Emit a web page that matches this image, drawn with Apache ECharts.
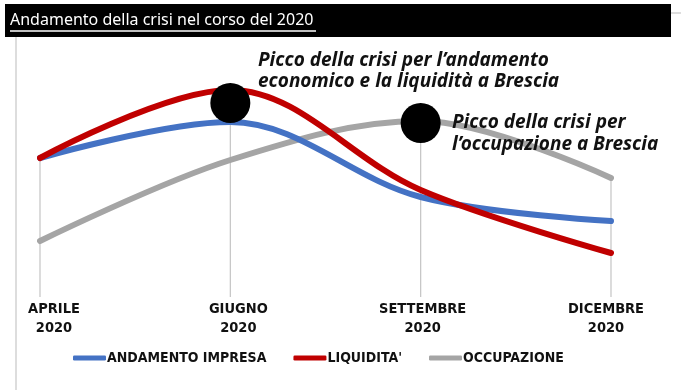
<!DOCTYPE html>
<html>
<head>
<meta charset="utf-8">
<script src="https://cdn.jsdelivr.net/npm/echarts@6/dist/echarts.min.js"></script>
<style>
html,body{margin:0;padding:0;background:#fff;}
#chart{width:681px;height:390px;}
</style>
</head>
<body>
<div id="chart"></div>
<script>
// ---- data ----
var titleText = 'Andamento della crisi nel corso del 2020';
var categories = ['APRILE\n2020', 'GIUGNO\n2020', 'SETTEMBRE\n2020', 'DICEMBRE\n2020'];
var seriesNames = ['ANDAMENTO IMPRESA', "LIQUIDITA'", 'OCCUPAZIONE'];
var andamentoImpresa = [139, 175, 100, 76];
var liquidita = [139, 207, 107, 44];
var occupazione = [56, 137, 176, 119];
var peakPoints = [[1, 194], [2, 174]];
var note1 = ["Picco della crisi per l\u2019andamento", 'economico e la liquidit\u00e0 a Brescia'];
var note2 = ['Picco della crisi per', 'l\u2019occupazione a Brescia'];

var dropData = categories.map(function (c, i) {
  return [i, Math.max(andamentoImpresa[i], liquidita[i], occupazione[i])];
});

var labelFont = '"Liberation Sans Narrow", "DejaVu Sans Condensed", sans-serif';
var noteFont = '"Noto Sans", "DejaVu Sans", sans-serif';
var labelShift = [14, 8, 2, -5];

var chart = echarts.init(document.getElementById('chart'), null, {renderer: 'canvas'});
chart.setOption({
  animation: false,
  backgroundColor: '#ffffff',
  title: {
    text: titleText,
    left: 5, top: 7, z: 10,
    textStyle: {color: '#ffffff', fontSize: 16, fontWeight: 'normal', fontFamily: noteFont}
  },
  grid: {left: 40, right: 70, top: 38, bottom: 93, outerBoundsMode: 'none', containLabel: false},
  legend: {
    left: 73, top: 351, padding: 0,
    itemWidth: 33, itemHeight: 5, itemGap: 27,
    icon: 'roundRect',
    data: seriesNames,
    textStyle: {fontFamily: labelFont, fontWeight: 'bold', fontSize: 14, color: '#111', padding: [0, 0, 0, -4]}
  },
  xAxis: {
    type: 'category',
    boundaryGap: false,
    data: categories.map(function (c, i) {
      var s = labelShift[i];
      return {value: c, textStyle: {padding: s >= 0 ? [0, 0, 0, 2 * s] : [0, -2 * s, 0, 0]}};
    }),
    axisLine: {show: false},
    axisTick: {show: false},
    splitLine: {show: false},
    axisLabel: {
      margin: 3, color: '#111', fontFamily: labelFont, fontWeight: 'bold', fontSize: 14.5, lineHeight: 19
    }
  },
  yAxis: {type: 'value', min: 0, max: 259, show: false},
  graphic: [
    {type: 'rect', z: 0, shape: {x: 5, y: 4, width: 666, height: 33}, style: {fill: '#000'}},
    {type: 'line', z: 100, shape: {x1: 10, y1: 31, x2: 316, y2: 31}, style: {stroke: '#fff', lineWidth: 1.3}},
    {type: 'line', z: 0, shape: {x1: 671, y1: 13, x2: 681, y2: 13}, style: {stroke: '#bbb', lineWidth: 1}},
    {type: 'line', z: 0, shape: {x1: 16, y1: 37, x2: 16, y2: 390}, style: {stroke: '#bbb', lineWidth: 1}},
    {type: 'text', z: 100, x: 258, y: 50, style: {text: note1.join('\n'), fill: '#111', font: 'italic bold 19px ' + noteFont, lineHeight: 21}},
    {type: 'text', z: 100, x: 452, y: 112, style: {text: note2.join('\n'), fill: '#111', font: 'italic bold 19px ' + noteFont, lineHeight: 22}}
  ],
  series: [
    {
      type: 'custom', z: 1, silent: true,
      data: dropData,
      renderItem: function (params, api) {
        var top = api.coord([api.value(0), api.value(1)]);
        var bot = api.coord([api.value(0), 0]);
        return {type: 'line', shape: {x1: top[0], y1: top[1], x2: bot[0], y2: bot[1]},
          style: {stroke: '#c4c4c4', lineWidth: 1.2}};
      }
    },
    {name: seriesNames[0], type: 'line', z: 3, smooth: 0.35, symbol: 'none', data: andamentoImpresa,
      color: '#4472c4', lineStyle: {width: 6, color: '#4472c4', cap: 'round'}},
    {name: seriesNames[1], type: 'line', z: 4, smooth: 0.35, symbol: 'none', data: liquidita,
      color: '#c00000', lineStyle: {width: 6, color: '#c00000', cap: 'round'}},
    {name: seriesNames[2], type: 'line', z: 2, smooth: 0.35, symbol: 'none', data: occupazione,
      color: '#a5a5a5', lineStyle: {width: 6, color: '#a5a5a5', cap: 'round'}},
    {type: 'scatter', z: 6, silent: true, data: peakPoints, symbolSize: 40,
      itemStyle: {color: '#000', opacity: 1}}
  ]
});
</script>
</body>
</html>
